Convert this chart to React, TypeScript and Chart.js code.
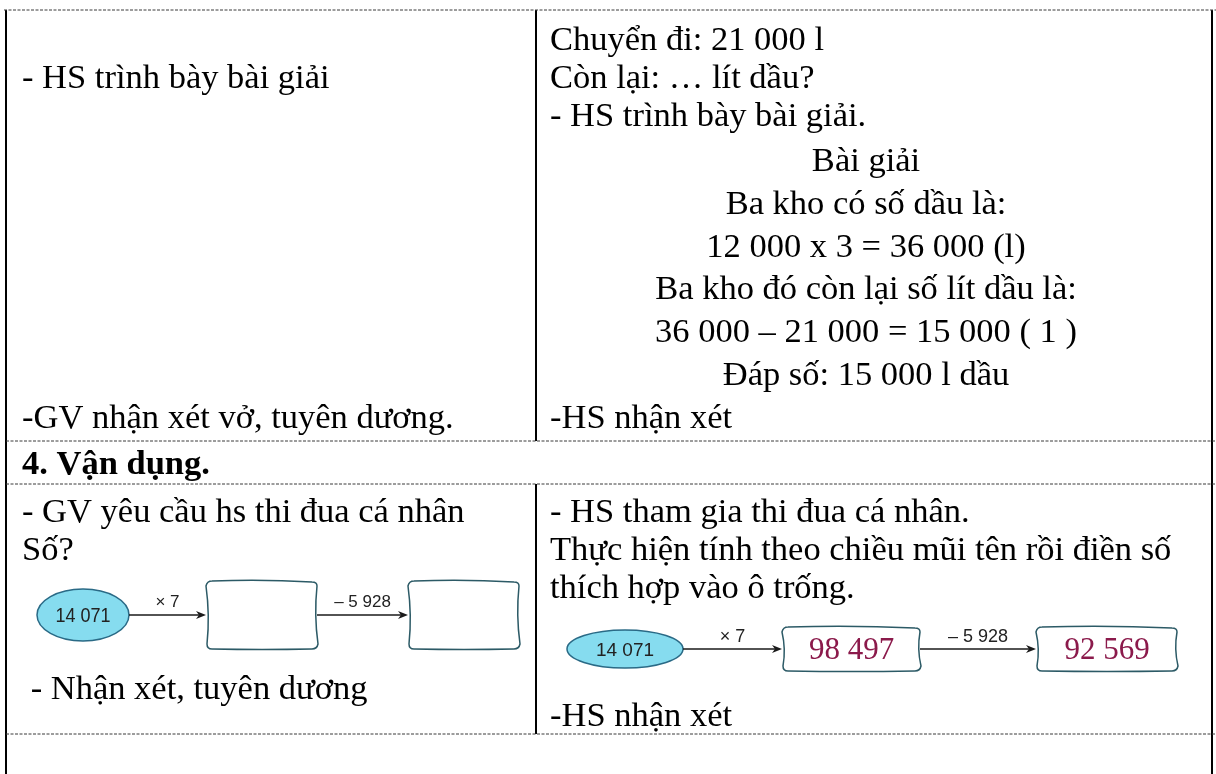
import React, { useEffect, useRef } from "react";
import { Chart, registerables } from "chart.js";

Chart.register(...registerables);

// ---------- content ----------
const row1LeftLines = ["- HS trình bày bài giải"];
const row1LeftFooter = "-GV nhận xét vở, tuyên dương.";
const row1RightLines = ["Chuyển đi: 21 000 l", "Còn lại: … lít dầu?", "- HS trình bày bài giải."];
const solutionLines = [
  "Bài giải",
  "Ba kho có số dầu là:",
  "12 000 x 3 = 36 000 (l)",
  "Ba kho đó còn lại số lít dầu là:",
  "36 000 – 21 000 = 15 000 ( 1 )",
  "Đáp số: 15 000 l dầu",
];
const row1RightFooter = "-HS nhận xét";
const sectionTitle = "4. Vận dụng.";
const row3LeftLines = ["- GV yêu cầu hs thi đua cá nhân", "Số?"];
const row3LeftFooter = " - Nhận xét, tuyên dương";
const row3RightLines = [
  "- HS tham gia thi đua cá nhân.",
  "Thực hiện tính theo chiều mũi tên rồi điền số",
  "thích hợp vào ô trống.",
];
const row3RightFooter = "-HS nhận xét";
const startValue = "14 071";
const operations = ["× 7", "– 5 928"];
const emptyResults = ["", ""];
const filledResults = ["98 497", "92 569"];

// ---------- layout (baselines in px) ----------
const W = 1216;
const H = 774;
const ruleYs = [10, 441, 484, 734];
const borderXs = [6, 1212];
const dividerX = 536;
const dividerSpans = [
  [10, 441],
  [484, 734],
];
const lineGap = 38;
const solutionGap = 42.8;
const firstBaseline = 50;
const solutionBaseline = 171;
const footerBaseline = 428;
const titleBaseline = 474;
const row3Baseline = 522;
const row3LeftFooterBaseline = 699;
const row3RightFooterBaseline = 726;
const leftTextX = 22;
const rightTextX = 550;
const solutionCenterX = 866;
const BODY_SIZE = 34.5;
const FONT = '"Liberation Serif", "Times New Roman", serif';
const SANS = '"Liberation Sans", Arial, sans-serif';

type Diagram = {
  ell: [number, number, number, number];
  arrows: [number, number][];
  boxes: [number, number][];
  y: number;
  boxH: number;
  opFont: number;
  opLift: number;
  startFont: number;
  startStretch: number;
  resultFont: number;
  results: string[];
};

const leftDiagram: Diagram = {
  ell: [83, 615, 46, 26],
  arrows: [
    [129, 206],
    [317, 408],
  ],
  boxes: [
    [207, 317],
    [409, 519],
  ],
  y: 615,
  boxH: 68,
  opFont: 17,
  opLift: 8,
  startFont: 20,
  startStretch: 0.9,
  resultFont: 31,
  results: emptyResults,
};
const rightDiagram: Diagram = {
  ell: [625, 649, 58, 19],
  arrows: [
    [683, 782],
    [920, 1036],
  ],
  boxes: [
    [783, 920],
    [1037, 1177],
  ],
  y: 649,
  boxH: 44,
  opFont: 18,
  opLift: 7,
  startFont: 19,
  startStretch: 1,
  resultFont: 31,
  results: filledResults,
};

function drawText(ctx: CanvasRenderingContext2D, text: string, x: number, baseline: number, opts: any = {}) {
  const size = opts.size || BODY_SIZE;
  const sx = opts.stretch || 1;
  ctx.save();
  ctx.font = `${opts.bold ? "bold " : ""}${size}px ${opts.font || FONT}`;
  ctx.fillStyle = opts.color || "#000";
  ctx.textAlign = opts.align || "left";
  ctx.textBaseline = "alphabetic";
  ctx.translate(x, baseline);
  ctx.scale(sx, 1);
  ctx.fillText(text, 0, 0);
  ctx.restore();
}

function drawBox(ctx: CanvasRenderingContext2D, x0: number, x1: number, yc: number, h: number) {
  const y0 = yc - h / 2;
  const y1 = yc + h / 2;
  const r = 5;
  ctx.beginPath();
  ctx.moveTo(x0 + r, y0);
  ctx.quadraticCurveTo((x0 + x1) / 2, y0 - 2, x1 - r, y0 + 1);
  ctx.quadraticCurveTo(x1, y0 + 1, x1, y0 + r);
  ctx.quadraticCurveTo(x1 - 3, yc, x1 + 1, y1 - r);
  ctx.quadraticCurveTo(x1, y1, x1 - r, y1);
  ctx.quadraticCurveTo((x0 + x1) / 2, y1 + 1, x0 + r, y1);
  ctx.quadraticCurveTo(x0, y1, x0, y1 - r);
  ctx.quadraticCurveTo(x0 + 3, yc, x0 - 1, y0 + r);
  ctx.quadraticCurveTo(x0, y0, x0 + r, y0);
  ctx.closePath();
  ctx.fillStyle = "#fff";
  ctx.fill();
  ctx.strokeStyle = "#2c5a66";
  ctx.lineWidth = 1.5;
  ctx.stroke();
}

function drawArrow(ctx: CanvasRenderingContext2D, x0: number, x1: number, y: number) {
  ctx.strokeStyle = "#1a1a1a";
  ctx.lineWidth = 1.4;
  ctx.beginPath();
  ctx.moveTo(x0, y);
  ctx.lineTo(x1 - 6, y);
  ctx.stroke();
  ctx.fillStyle = "#1a1a1a";
  ctx.beginPath();
  ctx.moveTo(x1, y);
  ctx.lineTo(x1 - 10, y - 4);
  ctx.lineTo(x1 - 7, y);
  ctx.lineTo(x1 - 10, y + 4);
  ctx.closePath();
  ctx.fill();
}

function drawDiagram(ctx: CanvasRenderingContext2D, d: Diagram, px: (v: number) => number, py: (v: number) => number) {
  const [ex, ey, rx, ry] = d.ell;
  ctx.beginPath();
  ctx.ellipse(px(ex), py(ey), rx, ry, 0, 0, Math.PI * 2);
  ctx.fillStyle = "#86dcef";
  ctx.fill();
  ctx.strokeStyle = "#2a6a86";
  ctx.lineWidth = 1.5;
  ctx.stroke();
  drawText(ctx, startValue, px(ex), py(ey) + d.startFont * 0.36, {
    size: d.startFont,
    font: SANS,
    align: "center",
    color: "#222",
    stretch: d.startStretch,
  });
  d.arrows.forEach((a, i) => {
    drawArrow(ctx, px(a[0]), px(a[1]), py(d.y));
    drawText(ctx, operations[i], (px(a[0]) + px(a[1])) / 2, py(d.y) - d.opLift, {
      size: d.opFont,
      font: SANS,
      align: "center",
      color: "#222",
    });
  });
  d.boxes.forEach((b, i) => {
    drawBox(ctx, px(b[0]), px(b[1]), py(d.y), d.boxH);
    if (d.results[i]) {
      drawText(ctx, d.results[i], (px(b[0]) + px(b[1])) / 2, py(d.y) + d.resultFont * 0.33, {
        size: d.resultFont,
        align: "center",
        color: "#8b1a4b",
      });
    }
  });
}

const docPlugin = {
  id: "docPlugin",
  afterDatasetsDraw(chart: any) {
    const ctx: CanvasRenderingContext2D = chart.ctx;
    const px = (v: number) => chart.scales.x.getPixelForValue(v);
    const py = (v: number) => chart.scales.y.getPixelForValue(v);
    ctx.save();
    // row 1 left
    row1LeftLines.forEach((t, i) => drawText(ctx, t, px(leftTextX), py(firstBaseline + (i + 1) * lineGap)));
    drawText(ctx, row1LeftFooter, px(leftTextX), py(footerBaseline));
    // row 1 right
    row1RightLines.forEach((t, i) => drawText(ctx, t, px(rightTextX), py(firstBaseline + i * lineGap)));
    solutionLines.forEach((t, i) =>
      drawText(ctx, t, px(solutionCenterX), py(solutionBaseline + i * solutionGap), { align: "center" })
    );
    drawText(ctx, row1RightFooter, px(rightTextX), py(footerBaseline));
    // section title
    drawText(ctx, sectionTitle, px(leftTextX), py(titleBaseline), { bold: true });
    // row 3
    row3LeftLines.forEach((t, i) => drawText(ctx, t, px(leftTextX), py(row3Baseline + i * lineGap)));
    drawText(ctx, row3LeftFooter, px(leftTextX), py(row3LeftFooterBaseline));
    row3RightLines.forEach((t, i) => drawText(ctx, t, px(rightTextX), py(row3Baseline + i * lineGap)));
    drawText(ctx, row3RightFooter, px(rightTextX), py(row3RightFooterBaseline));
    drawDiagram(ctx, leftDiagram, px, py);
    drawDiagram(ctx, rightDiagram, px, py);
    ctx.restore();
  },
};

function buildDatasets() {
  const ds: any[] = [];
  ruleYs.forEach((y, i) => {
    ds.push({
      type: "line",
      data: [
        { x: i === 0 ? 4 : borderXs[0], y },
        { x: W, y },
      ],
      borderColor: "#3a3a3a",
      borderWidth: 1,
      borderDash: [3, 1.5],
      pointRadius: 0,
      showLine: true,
    });
  });
  borderXs.forEach((x) => {
    ds.push({
      type: "line",
      data: [
        { x, y: ruleYs[0] },
        { x, y: H },
      ],
      borderColor: "#000",
      borderWidth: 2,
      pointRadius: 0,
      showLine: true,
    });
  });
  dividerSpans.forEach(([a, b]) => {
    ds.push({
      type: "line",
      data: [
        { x: dividerX, y: a },
        { x: dividerX, y: b },
      ],
      borderColor: "#000",
      borderWidth: 2,
      pointRadius: 0,
      showLine: true,
    });
  });
  return ds;
}

export default function App() {
  const ref = useRef<HTMLCanvasElement>(null);
  useEffect(() => {
    if (!ref.current) return;
    const chart = new Chart(ref.current, {
      type: "scatter",
      data: { datasets: buildDatasets() },
      options: {
        animation: false,
        responsive: false,
        devicePixelRatio: 1,
        layout: { padding: 0 },
        plugins: { legend: { display: false }, tooltip: { enabled: false } },
        events: [],
        scales: {
          x: { type: "linear", min: 0, max: W, display: false },
          y: { type: "linear", min: 0, max: H, reverse: true, display: false },
        },
      },
      plugins: [docPlugin],
    });
    return () => chart.destroy();
  }, []);
  return (
    <div style={{ position: "fixed", left: 0, top: 0, width: W, height: H, background: "#fff" }}>
      <canvas ref={ref} width={W} height={H} style={{ display: "block", width: W, height: H }} />
    </div>
  );
}
